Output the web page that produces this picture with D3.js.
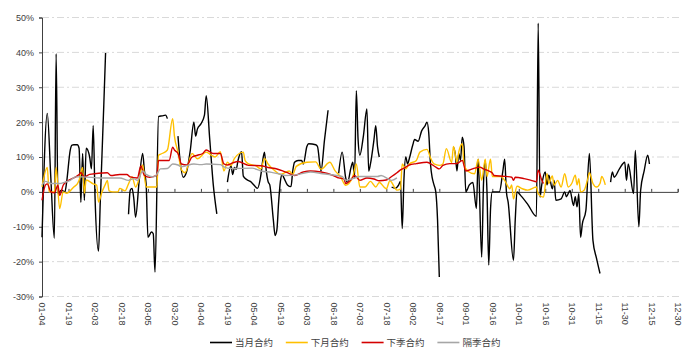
<!DOCTYPE html>
<html><head><meta charset="utf-8">
<script src="https://cdn.jsdelivr.net/npm/d3@7"></script>
<style>
body{margin:0;background:#fff;}
svg{display:block;font-family:"Liberation Sans",Arial,sans-serif;}
</style></head>
<body><svg id="chart" width="690" height="363"></svg>
<script>
// ---- data (day offset from 2019-01-04, value in %) ----
const startDate = new Date(2019, 0, 4);
const tickLabels = ["01-04","01-19","02-03","02-18","03-05","03-20","04-04","04-19","05-04","05-19","06-03","06-18","07-03","07-18","08-02","08-17","09-01","09-16","10-01","10-16","10-31","11-15","11-30","12-15","12-30"];
const yTicks = [-30,-20,-10,0,10,20,30,40,50];
const seriesNames = ["当月合约","下月合约","下季合约","隔季合约"];

const dangyue = [[0,-13],[3,22.5],[5,4],[7,-13.3],[8,39.6],[9,-0.5],[11,0.5],[13,0],[14,3],[16,12],[17,13.4],[18,13.5],[20,13.5],[21,12.5],[22,-3],[23,11],[24,-2.4],[25,12.5],[27,10],[28,6.6],[29,19],[30,-1],[32,-17],[33,-3],[34,11],[35,25],[36,39.8],[37,null],
[49,-6.4],[50,0.5],[51,1],[52,-2],[53,-7.3],[55,3],[57,11],[58,6],[59,2],[60,-13],[62,-11.5],[63,-12],[64,-23],[66,21.6],[68,21.8],[70,22],[71,21],[72,null],
[77,16],[78,10],[80,4.2],[82,6],[84,12],[86,20],[87,16],[88,18],[90,19.5],[92,22],[93,27.6],[95,15],[97,2],[99,-6.3],[100,null],
[105,2.8],[107,7.5],[108,5],[109,7],[110,6.5],[111,9],[113,11.5],[114,4.5],[116,3.5],[118,3],[120,2],[122,1],[124,5],[125,9],[126,11.4],[127,6],[128,3],[129,2],[131,-8],[132,-12.5],[133,-11],[134,-3],[135,3],[136,5],[137,4],[139,2],[141,1.5],[142,6],[143,8.5],[145,9],[147,9],[148,8],[150,13],[151,13.8],[155,13.5],[156,13],[158,6],[160,15],[162,23.4],[163,null],
[168,5.3],[170,11.4],[172,4],[173,2.6],[175,7],[176,8.5],[177,4],[178,29],[179,15],[180,10.5],[182,16],[184,23.8],[185,6],[186,8],[188,15],[189,19],[190,13],[191,10],[192,null],
[198,1.4],[200,1],[202,2],[203,3],[204,-10.5],[205,4],[206,10],[207,8],[208,9.5],[210,13.5],[211,15],[213,14.5],[215,17.5],[217,19],[218,20],[219,17],[220,8],[221,4],[222,2],[223,0],[224,-8],[225,-24.4],[226,null],
[233,12.8],[234,11],[235,6],[236,11],[237,9],[238,15.7],[239,13],[240,0],[242,2],[244,2.7],[246,-4.8],[247,9.4],[249,-18.7],[250,2],[251,9],[252,0],[253,-21],[254,-5],[255,0],[259,0],[261,6],[262,9.4],[263,0],[264,-3],[267,-19.6],[268,-8],[269,0],[271,-1],[275,-3.5],[280,-7],[281,48.4],[282,-1.5],[283,2],[285,5.7],[286,2],[287,4.8],[289,0.9],[290,3.3],[291,-2.4],[294,-2],[296,0],[297,-1.4],[299,0.4],[301,-3.9],[302,-1.4],[303,-4.3],[304,-0.5],[305,-13],[306,-9.2],[308,-5.3],[310,11],[312,-13.9],[314,-19],[316,-23.4],[317,null],
[322,2.8],[323,5.7],[324,4.2],[327,6.6],[330,8.5],[331,3.3],[332,8],[335,-0.5],[336,11.9],[338,-10],[339,0.4],[341,6],[343,10.5],[344,8]];

const xiayue = [[0,1.4],[3,7],[4,0],[7,0],[8,7],[10,-4.8],[12,0],[14,-0.4],[18,1.4],[20,2.3],[21,3.3],[23,7],[24,-0.4],[25,3.4],[29,2.3],[31,1.9],[32,-2.9],[34,0],[36,2.3],[37,3.3],[38,0.3],[40,0],[43,0],[44,1],[47,0.3],[49,2.3],[51,4.3],[53,1.4],[55,3.8],[57,7.7],[59,1.4],[65,1.4],[66,10.5],[68,11],[71,12],[74,21],[75,16],[77,11.4],[79,6.3],[81,5.5],[85,11],[88,9.5],[93,11.4],[96,10.5],[98,10],[101,11.5],[103,6],[105,8.5],[107,7.5],[109,9.6],[114,11.4],[115,9],[117,8],[121,7.5],[124,6.6],[126,9.6],[128,8],[132,6],[135,5],[140,6],[142,5],[144,7.3],[150,8.5],[155,8.6],[158,6.5],[163,8.5],[166,6],[169,4.4],[172,1.9],[176,4.4],[178,8],[180,1.4],[183,1.4],[186,3],[189,1.4],[191,2.7],[195,0.9],[197,3.2],[201,0.5],[203,0.8],[204,8],[206,6.6],[208,8],[212,9],[214,11.4],[218,12.2],[220,9.8],[222,8],[225,7.6],[227,8],[229,12.4],[232,8.4],[233,13],[235,8.5],[236,11.4],[238,13.8],[239,8],[241,6],[245,5.2],[247,9.4],[249,3.3],[251,9.4],[252,4.4],[254,9.4],[255,4.4],[260,4.4],[262,3.3],[265,0.9],[266,2],[267,-2],[269,1.6],[272,0.9],[275,0.5],[280,1.4],[281,-0.5],[284,-1.5],[286,5.2],[287,2.4],[289,4.6],[290,1.9],[292,3.3],[294,1.4],[296,5.2],[298,1.4],[300,2.4],[302,4.8],[303,2],[304,3.8],[305,0],[307,0.5],[309,3.6],[310,5.5],[312,2.4],[314,1.4],[316,2.4],[317,4.4],[319,2]];

const xiaji = [[0,-2.4],[2,2],[3,2.3],[5,0],[7,-0.3],[9,1.9],[10,-1],[12,1.9],[14,3],[18,4],[21,5],[22,5.5],[24,4.3],[27,5],[37,5.5],[39,4.7],[44,5],[48,5],[50,4.3],[54,4],[56,7.4],[58,4.7],[61,4.2],[65,4.7],[66,9],[72,9],[74,12.8],[75,12],[77,11],[79,8],[82,7.7],[85,10],[88,10.5],[91,11],[93,12],[97,11],[101,11],[103,8],[105,7.7],[108,8.3],[111,8.7],[117,7.6],[124,7.5],[128,7],[132,6.7],[139,5.5],[143,4.7],[148,5.7],[152,6],[158,5.7],[165,4.7],[168,4],[171,3.7],[172,2.4],[175,3.5],[177,4.7],[180,3.3],[184,4],[188,3.7],[191,3.2],[195,3.4],[198,4.4],[201,5.5],[203,6.3],[205,6.8],[208,7.7],[212,8.1],[218,8.5],[223,7.1],[225,6.6],[227,7.6],[231,8.1],[235,8.1],[238,9],[240,6],[245,6.8],[248,7.1],[250,6.6],[253,6],[255,5.4],[256,4.7],[261,4.5],[266,4.2],[267,3.3],[268,4.2],[273,3.8],[277,3.3],[280,2.9],[281,6.2],[283,3.4],[284,2.4]];

const geji = [[0,1.9],[2,3],[5,2.4],[10,2.4],[13,2.8],[16,3.3],[19,4.3],[23,4.3],[33,4],[44,4],[49,3.3],[52,3.8],[54,3.3],[57,6],[59,5],[63,4.3],[65,5],[67,6.6],[71,6.7],[74,8],[77,7.7],[79,7.2],[86,8],[90,7.8],[93,8],[101,7.8],[103,7.2],[107,6.7],[119,6.8],[124,6],[130,5.6],[134,5.2],[138,4.7],[143,4.8],[152,5.7],[159,5.2],[170,4.4],[172,3.3],[176,3.8],[180,4.4],[190,4.4],[192,4.7],[198,3.3],[201,4]];

const seriesData = [dangyue, xiayue, xiaji, geji];
const seriesColors = ["#000000","#FFC000","#D40000","#A6A6A6"];

// ---- chart ----
const svg = d3.select("#chart");
const parse = s => d3.timeParse("%Y-%m-%d")("2019-" + s);
const dayToDate = d => d3.timeDay.offset(startDate, d);
const tickDates = tickLabels.map(parse);

const x = d3.scaleTime().domain([tickDates[0], tickDates[tickDates.length-1]]).range([42, 677.7]);
const y = d3.scaleLinear().domain([-30, 50]).range([296.5, 17.5]);

// gridlines
svg.append("g").selectAll("line").data(yTicks.filter(v => v !== 0)).join("line")
  .attr("x1", 42).attr("x2", 680)
  .attr("y1", d => y(d)).attr("y2", d => y(d))
  .attr("stroke", "#d9d9d9").attr("stroke-width", 1)
  .attr("stroke-dasharray", "7,3,2,3");

// y axis
const yAxis = svg.append("g").attr("transform", "translate(42,0)")
  .call(d3.axisLeft(y).tickValues(yTicks).tickFormat(d => d + "%").tickSize(3).tickPadding(5));
yAxis.select(".domain").attr("stroke", "#404040");
yAxis.selectAll(".tick line").attr("stroke", "#404040");
yAxis.selectAll("text").attr("font-size", 9).attr("fill", "#404040").attr("font-family", "Liberation Sans, Arial, sans-serif");

// x axis line at 0 with ticks
const xAxis0 = svg.append("g").attr("transform", `translate(0,${y(0)})`)
  .call(d3.axisTop(x).tickValues(tickDates).tickFormat("").tickSize(3));
xAxis0.select(".domain").attr("stroke", "#404040");
xAxis0.selectAll(".tick line").attr("stroke", "#404040");

// x labels at bottom
const xAxisB = svg.append("g").attr("transform", `translate(0,${y(-30)})`)
  .call(d3.axisBottom(x).tickValues(tickDates).tickFormat((d, i) => tickLabels[i]).tickSize(0));
xAxisB.select(".domain").remove();
xAxisB.selectAll("text")
  .attr("font-size", 9).attr("fill", "#404040")
  .attr("font-family", "Liberation Sans, Arial, sans-serif")
  .attr("transform", "rotate(90)")
  .attr("text-anchor", "start")
  .attr("dy", "0.35em")
  .attr("y", 0).attr("x", 6);

// lines
const line = d3.line()
  .defined(d => d[1] !== null)
  .x(d => x(dayToDate(d[0])))
  .y(d => y(d[1]))
  .curve(d3.curveMonotoneX);

svg.append("g").selectAll("path").data(seriesData).join("path")
  .attr("d", d => line(d))
  .attr("fill", "none")
  .attr("stroke", (d, i) => seriesColors[i])
  .attr("stroke-width", 1.4)
  .attr("stroke-linejoin", "round");

// legend
const legend = svg.append("g").attr("transform", "translate(210,342.5)");
const items = legend.selectAll("g").data(seriesNames).join("g")
  .attr("transform", (d, i) => `translate(${i * 75.8},0)`);
items.append("line").attr("x1", 0).attr("x2", 22).attr("y1", 0).attr("y2", 0)
  .attr("stroke", (d, i) => seriesColors[i]).attr("stroke-width", 1.6);
items.append("text").attr("x", 25).attr("y", 0).attr("dy", "0.35em")
  .attr("font-size", 9.5).attr("fill", "#404040")
  .attr("font-family", "Noto Sans CJK SC, sans-serif")
  .text(d => d);
</script>
</body></html>
